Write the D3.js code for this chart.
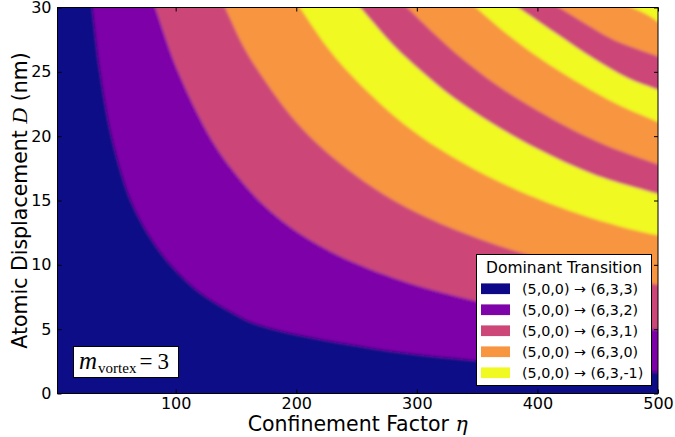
<!DOCTYPE html>
<html><head><meta charset="utf-8">
<script src="https://cdn.jsdelivr.net/npm/d3@7"></script>
<style>body{margin:0;background:#fff}svg{display:block}</style>
</head><body>
<svg id="chart" width="675" height="437"></svg>
<script>
// ---- data ----
const transitions = ["(5,0,0) \u2192 (6,3,3)","(5,0,0) \u2192 (6,3,2)","(5,0,0) \u2192 (6,3,1)","(5,0,0) \u2192 (6,3,0)","(5,0,0) \u2192 (6,3,-1)"];
const transitionColors = ["#0d0887","#7e03a8","#cc4778","#f89540","#f0f921"];
const etaExtent = [2, 500];
const dExtent = [0, 30];
const xTicks = [100,200,300,400,500];
const yTicks = [0,5,10,15,20,25,30];
// boundaries between dominant-transition regions, [eta, D]
const boundary1  = [[31,30],[37.5,25],[47,20],[63,15],[80,12],[96,10],[118,8],[143,6.5],[164,5.5],[205,4.5],[265,3.5],[305,3],[360,2.5],[430,2],[500,1.68]];
const boundary2  = [[83,30],[102,25],[128,20],[146,17.5],[169,15],[194,13],[229,11],[280,9],[335,7.5],[385,6.5],[450,5.5],[500,4.95]];
const boundary3  = [[141,30],[156,27],[169,25],[192,22],[211,20],[235,18],[264,16],[301,14],[352,12],[402,10.5],[444,9.5],[500,8.45]];
const boundary4  = [[203,30],[225,27],[243,25],[276,22],[303,20],[337,18],[379,16],[433,14],[470,12.95],[500,12.3]];
const boundary5  = [[253,30],[281,27],[304,25],[330,23],[362,21],[400,19],[447,17],[500,15.5]];
const boundary6  = [[292,30],[314,28],[338,26],[366,24],[400,22],[440,20],[470,18.8],[500,17.8]];
const boundary7  = [[349,30],[374,28],[403,26],[437,24],[466,22.5],[500,21.1]];
const boundary8  = [[384,30],[415,28],[447,26],[475,24.5],[500,23.6]];
const boundary9  = [[418,30],[444,28.5],[463,27.5],[500,26.2]];
const boundary10 = [[478,30],[490,29.5],[500,28.9]];
const boundaries = [boundary1,boundary2,boundary3,boundary4,boundary5,boundary6,boundary7,boundary8,boundary9,boundary10];
// transition index of the region above/right of each boundary
const regionAbove = [1,2,3,4,2,3,4,2,3,4];

// ---- layout ----
const svg = d3.select("#chart");
const L = 57.5, R = 658, T = 7.5, B = 393.5;
const x = d3.scaleLinear().domain(etaExtent).range([L, R]);
const y = d3.scaleLinear().domain(dExtent).range([B, T]);

const defs = svg.append("defs");
defs.append("clipPath").attr("id","plotClip").append("rect")
  .attr("x",L).attr("y",T).attr("width",R-L).attr("height",B-T);
defs.append("filter").attr("id","soft").attr("x","-5%").attr("y","-5%").attr("width","110%").attr("height","110%")
  .append("feGaussianBlur").attr("stdDeviation",1.4);

const heat = svg.append("g").attr("clip-path","url(#plotClip)").append("g").attr("filter","url(#soft)");
const pad = 14;
heat.append("rect").attr("x",L-pad).attr("y",T-pad).attr("width",R-L+2*pad).attr("height",B-T+2*pad)
  .attr("fill",transitionColors[0]);

const line = d3.line().curve(d3.curveCatmullRom.alpha(0.5));
function extend(p, q, len){ // extend from q through p
  const dx=p[0]-q[0], dy=p[1]-q[1], n=Math.hypot(dx,dy)||1;
  return [p[0]+dx/n*len, p[1]+dy/n*len];
}
boundaries.forEach((b,i)=>{
  const pts = b.map(([e,d])=>[x(e),y(d)]);
  const start = extend(pts[0], pts[1], pad);
  const end = extend(pts[pts.length-1], pts[pts.length-2], pad);
  const curve = [start, ...pts, end];
  const d = line(curve) + `L${R+pad},${end[1]}L${R+pad},${T-pad}L${start[0]},${T-pad}Z`;
  heat.append("path").attr("d", d).attr("fill", transitionColors[regionAbove[i]]);
});

// ---- axes ----
const font = "'DejaVu Sans', sans-serif";
function styleAxis(g, labels){
  g.select(".domain").remove();
  g.selectAll(".tick line").attr("stroke","#000").attr("stroke-width",1);
  g.selectAll(".tick text").attr("fill","#000").style("font-family",font).style("font-size","16px");
  if(!labels) g.selectAll(".tick text").remove();
}
svg.append("g").attr("transform",`translate(0,${B})`)
  .call(d3.axisBottom(x).tickValues(xTicks).tickSizeInner(-4).tickSizeOuter(0).tickPadding(4))
  .call(g=>styleAxis(g,true));
svg.append("g").attr("transform",`translate(0,${T})`)
  .call(d3.axisTop(x).tickValues(xTicks).tickSizeInner(-4).tickSizeOuter(0))
  .call(g=>styleAxis(g,false));
svg.append("g").attr("transform",`translate(${L},0)`)
  .call(d3.axisLeft(y).tickValues(yTicks).tickSizeInner(-4).tickSizeOuter(0).tickPadding(6))
  .call(g=>styleAxis(g,true));
svg.append("g").attr("transform",`translate(${R},0)`)
  .call(d3.axisRight(y).tickValues(yTicks).tickSizeInner(-4).tickSizeOuter(0))
  .call(g=>styleAxis(g,false));

svg.append("rect").attr("x",L).attr("y",T).attr("width",R-L).attr("height",B-T)
  .attr("fill","none").attr("stroke","#000").attr("stroke-width",1);

// axis titles
const xl = svg.append("text").attr("x",(L+R)/2).attr("y",431).attr("text-anchor","middle")
  .style("font-family",font).style("font-size","20.5px").attr("fill","#000");
xl.append("tspan").text("Confinement Factor ");
xl.append("tspan").text("\u03B7").style("font-family","'DejaVu Serif', serif").style("font-style","italic");

const yl = svg.append("text").attr("transform",`translate(27,${(T+B)/2}) rotate(-90)`).attr("text-anchor","middle")
  .style("font-family",font).style("font-size","20.5px").attr("fill","#000");
yl.append("tspan").text("Atomic Displacement ");
yl.append("tspan").text("D").style("font-family","'Liberation Serif', serif").style("font-style","italic").style("font-size","22px");
yl.append("tspan").text(" (nm)");

// ---- legend ----
const lg = svg.append("g");
lg.append("rect").attr("x",476.5).attr("y",254.5).attr("width",175).attr("height",131)
  .attr("fill","#fff").attr("stroke","#000").attr("stroke-width",1);
lg.append("text").attr("x",564).attr("y",273).attr("text-anchor","middle")
  .style("font-family",font).style("font-size","15.5px").attr("fill","#000").text("Dominant Transition");
transitions.forEach((t,i)=>{
  const cy = 288.7 + i*21;
  lg.append("rect").attr("x",481).attr("y",cy-5.3).attr("width",29).attr("height",10.7).attr("fill",transitionColors[i]);
  lg.append("text").attr("x",522).attr("y",cy+5).style("font-family",font).style("font-size","14.3px")
    .attr("fill","#000").text(t);
});

// ---- m_vortex annotation ----
const ab = svg.append("g");
ab.append("rect").attr("x",73.5).attr("y",346.5).attr("width",105).attr("height",31)
  .attr("fill","#fff").attr("stroke","#000").attr("stroke-width",1);
const at = ab.append("text").attr("x",79).attr("y",369).style("font-family","'Liberation Serif', serif").attr("fill","#000");
at.append("tspan").text("m").style("font-style","italic").style("font-size","25px");
at.append("tspan").text("vortex").attr("dy",4).attr("dx",1).style("font-size","15px");
at.append("tspan").text("=").attr("dy",-4).attr("dx",3).style("font-size","23px");
at.append("tspan").text("3").attr("dx",5).style("font-size","23px");
</script>
</body></html>
